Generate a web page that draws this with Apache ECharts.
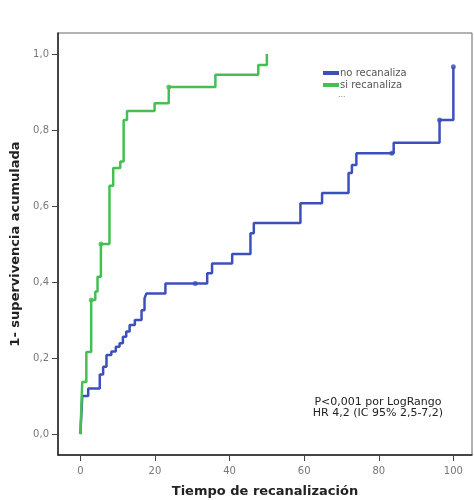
<!DOCTYPE html>
<html>
<head>
<meta charset="utf-8">
<script src="https://cdn.jsdelivr.net/npm/echarts@6/dist/echarts.min.js"></script>
<style>html,body{margin:0;padding:0;background:#fff}#c{width:474px;height:500px}</style>
</head>
<body>
<div id="c"></div>
<script>
// Kaplan-Meier style step data: [time, 1 - survival]
const noRecanalizaTime  = [0, 0.5, 2.1, 5.2, 6.1, 7.0, 8.3, 9.5, 10.5, 11.4, 12.3, 13.2, 14.6, 16.4, 17.2, 17.7, 22.8, 34.0, 35.3, 40.7, 45.6, 46.5, 59.0, 64.8, 71.9, 72.8, 74.0, 84.0, 96.3, 100];
const noRecanalizaValue = [0, 0.10, 0.12, 0.157, 0.177, 0.208, 0.217, 0.23, 0.239, 0.256, 0.27, 0.287, 0.30, 0.326, 0.357, 0.37, 0.396, 0.423, 0.449, 0.474, 0.528, 0.555, 0.607, 0.634, 0.687, 0.708, 0.739, 0.766, 0.826, 0.966];
const siRecanalizaTime  = [0, 0.5, 1.6, 2.9, 4.0, 4.6, 5.5, 7.8, 8.8, 10.7, 11.6, 12.5, 19.9, 23.7, 36.2, 47.7, 50];
const siRecanalizaValue = [0, 0.137, 0.216, 0.353, 0.375, 0.414, 0.50, 0.653, 0.70, 0.717, 0.826, 0.85, 0.87, 0.913, 0.945, 0.971, 1.0];
// censored marks
const noCensTime  = [30.8, 83.5, 96.3, 100];
const noCensValue = [0.396, 0.739, 0.826, 0.966];
const siCensTime  = [2.9, 5.5, 23.7];
const siCensValue = [0.353, 0.50, 0.913];
const xTicks = [0, 20, 40, 60, 80, 100];
const yTicks = [0, 0.2, 0.4, 0.6, 0.8, 1.0];
const seriesNames = ['no recanaliza', 'si recanaliza'];
const annotationLines = ['P<0,001 por LogRango', 'HR 4,2 (IC 95% 2,5-7,2)'];

const zip = (a, b) => a.map((v, i) => [v, b[i]]);
const BLUE = '#3c50bd', GREEN = '#45bf52';
const chart = echarts.init(document.getElementById('c'), null, {renderer: 'canvas'});
chart.setOption({
  animation: false,
  backgroundColor: '#fff',
  grid: {left: 58, top: 33, right: 2, bottom: 45, show: true, borderColor: '#666', borderWidth: 1,
    containLabel: false, outerBoundsMode: 'none'},
  xAxis: {
    type: 'value', min: -6, max: 105,
    name: 'Tiempo de recanalización', nameLocation: 'middle', nameGap: 30,
    nameTextStyle: {fontFamily: 'DejaVu Sans', fontWeight: 'bold', fontSize: 13, color: '#222'},
    axisLine: {show: true, onZero: false, lineStyle: {color: '#222', width: 1.5}},
    axisTick: {show: true, length: 6, customValues: xTicks, lineStyle: {color: '#444'}},
    axisLabel: {customValues: xTicks, fontFamily: 'DejaVu Sans', fontSize: 10, color: '#777', margin: 11},
    splitLine: {show: false}
  },
  yAxis: {
    type: 'value', min: -0.055, max: 1.055,
    name: '1- supervivencia acumulada', nameLocation: 'middle', nameGap: 34,
    nameTextStyle: {fontFamily: 'DejaVu Sans', fontWeight: 'bold', fontSize: 13, color: '#222'},
    axisLine: {show: true, onZero: false, lineStyle: {color: '#222', width: 1.5}},
    axisTick: {show: true, length: 6, customValues: yTicks, lineStyle: {color: '#444'}},
    axisLabel: {customValues: yTicks, fontFamily: 'DejaVu Sans', fontSize: 10, color: '#777', margin: 9,
      formatter: v => v.toFixed(1).replace('.', ',')},
    splitLine: {show: false}
  },
  legend: {
    data: seriesNames, orient: 'vertical', left: 318, top: 63, itemGap: 2,
    itemWidth: 16, itemHeight: 4, icon: 'rect',
    textStyle: {fontFamily: 'DejaVu Sans', fontSize: 10, color: '#555', padding: [0, 0, 0, -4]}
  },
  graphic: [
    {type: 'text', left: 338, top: 90, style: {text: '...', fontSize: 9, fill: '#888'}},
    {type: 'text', x: 378, y: 396, style: {text: annotationLines.join('\n'), textAlign: 'center', fontFamily: 'DejaVu Sans', fontSize: 11, lineHeight: 11.5, fill: '#222'}}
  ],
  series: [
    {name: seriesNames[0], type: 'line', step: 'end', data: zip(noRecanalizaTime, noRecanalizaValue),
      showSymbol: false, lineStyle: {color: BLUE, width: 2.5}, itemStyle: {color: BLUE}, z: 2},
    {name: seriesNames[1], type: 'line', step: 'end', data: zip(siRecanalizaTime, siRecanalizaValue),
      showSymbol: false, lineStyle: {color: GREEN, width: 2.5}, itemStyle: {color: GREEN}, z: 3},
    {type: 'scatter', data: zip(noCensTime, noCensValue), symbolSize: 5, itemStyle: {color: BLUE}, z: 4},
    {type: 'scatter', data: zip(siCensTime, siCensValue), symbolSize: 5, itemStyle: {color: GREEN}, z: 4}
  ]
});
</script>
</body>
</html>
